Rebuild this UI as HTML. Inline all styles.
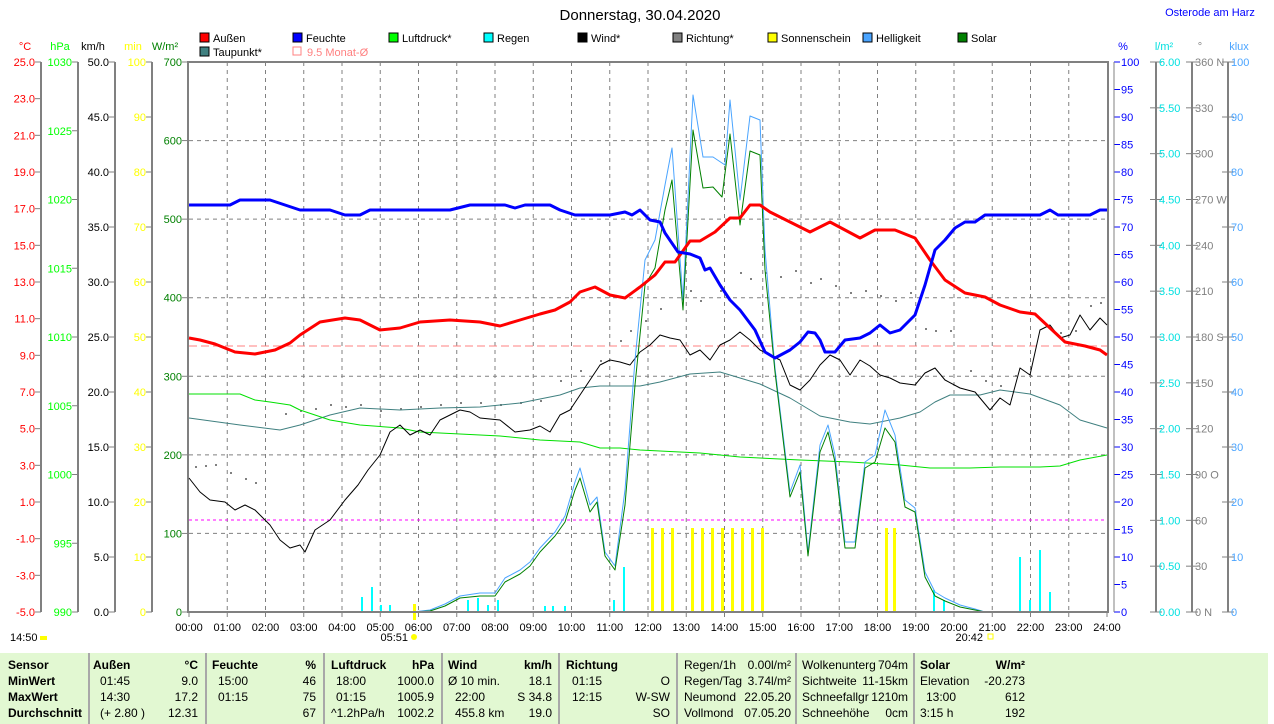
<!DOCTYPE html>
<html><head><meta charset="utf-8"><style>
body{margin:0;background:#fff;width:1274px;height:724px;overflow:hidden;font-family:"Liberation Sans",sans-serif}
svg text{font-family:"Liberation Sans",sans-serif;font-size:11px}
#tb{position:absolute;left:0;top:653px;width:1268px;height:71px;background:#e2f8d2;font-size:12px}
#tb div{position:absolute;white-space:nowrap}
.b{font-weight:bold}
.v{position:absolute;top:0;width:2px;height:71px;background:#a8a8a8}
</style></head><body>
<svg id="s" width="1274" height="653" style="position:absolute;left:0;top:0"></svg>
<div id="tb"></div>
<script>
const S=document.getElementById('s');let h='';
const X0=189,X1=1107,Y0=62,Y1=612;
const xh=t=>X0+(X1-X0)*t/24;
function T(x,y,s,c,a,extra){h+=`<text x="${x}" y="${y}" fill="${c}" text-anchor="${a||'start'}" ${extra||''}>${s}</text>`}
function L(x1,y1,x2,y2,c,w,d){h+=`<line x1="${x1}" y1="${y1}" x2="${x2}" y2="${y2}" stroke="${c}" stroke-width="${w||1}" ${d?`stroke-dasharray="${d}"`:''}/>`}
function P(pts,c,w,o){h+=`<polyline fill="none" stroke="${c}" stroke-width="${w}" stroke-linejoin="round" points="${pts}" ${o||''}/>`}
// title
h+=`<text x="640" y="20" text-anchor="middle" fill="#000" style="font-size:15px">Donnerstag, 30.04.2020</text>`;
T(1210,16,'Osterode am Harz','#0000ff','middle');
// grid
for(let i=1;i<7;i++){let y=Y0+i*550/7;L(X0,y,X1,y,'#808080',1,'4,4')}
for(let i=1;i<24;i++){let x=xh(i);L(x,Y0,x,Y1,'#808080',1,'4,4')}
// left axes
function axis(xl,xt,n,vals,c,tc){L(xl,Y0,xl,Y1,'#808080',2);for(let i=0;i<=n;i++){if(vals[i]===null)continue;let y=Y0+i*550/n;L(xl-6,y,xl,y,'#808080',1);T(xt,y+4,vals[i],c,'end')}}
let v=[];for(let i=0;i<=15;i++)v.push((25-2*i).toFixed(1));axis(41,35,15,v,'#ff0000');
v=[];for(let i=0;i<=8;i++)v.push(1030-5*i);axis(78,72,8,v,'#00ff00');
v=[];for(let i=0;i<=10;i++)v.push((50-5*i).toFixed(1));axis(115,109,10,v,'#000');
v=[];for(let i=0;i<=10;i++)v.push(100-10*i);axis(152,146,10,v,'#ffff00');
for(let i=0;i<=7;i++){let y=Y0+i*550/7;L(182,y,188,y,'#808080',1);T(182,y+4,700-100*i,'#008000','end')}
T(25,50,'°C','#ff0000','middle');T(60,50,'hPa','#00ff00','middle');T(93,50,'km/h','#000','middle');T(133,50,'min','#ffff00','middle');T(165,50,'W/m²','#008000','middle');
// right axes
for(let i=0;i<=20;i++){let y=Y0+i*27.5;L(1114,y,1120,y,'#0000ff',1);T(1121,y+4,100-5*i,'#0000ff')}
L(1114,Y0,1114,Y1,'#808080',1);
function raxis(xl,n,vals,c){L(xl,Y0,xl,Y1,'#808080',2);for(let i=0;i<=n;i++){let y=Y0+i*550/n;L(xl-6,y,xl+6,y,'#808080',1);T(xl+3,y+4,vals[i],c)}}
v=[];for(let i=0;i<=12;i++)v.push((6-0.5*i).toFixed(2));raxis(1156,12,v,'#00e0e0');
v=['360 N',330,300,'270 W',240,210,'180 S',150,120,'90 O',60,30,'0 N'];raxis(1192,12,v,'#808080');
v=[];for(let i=0;i<=10;i++)v.push(100-10*i);raxis(1228,10,v,'#4aa4ff');
T(1123,50,'%','#0000ff','middle');T(1164,50,'l/m²','#00e0e0','middle');T(1200,50,'°','#808080','middle');T(1239,50,'klux','#4aa4ff','middle');
// frame
h+=`<rect x="${X0-1}" y="${Y0}" width="${X1-X0+2}" height="${Y1-Y0}" fill="none" stroke="#808080" stroke-width="2"/>`;
// hours
for(let i=0;i<=24;i++){let x=xh(i);L(x,Y1,x,Y1+5,'#808080',1);T(x,631,(i<10?'0':'')+i+':00','#000','middle')}
T(408,641,'05:51','#000','end');h+=`<circle cx="414" cy="637" r="3" fill="#ffff00"/>`;
T(983,641,'20:42','#000','end');h+=`<rect x="988" y="634" width="5" height="5" fill="none" stroke="#ffff00"/>`;
T(10,641,'14:50','#000');h+=`<rect x="40" y="636" width="7" height="4" fill="#ffff00"/>`;
// legend
const lg=[[200,'Außen','#ff0000'],[293,'Feuchte','#0000ff'],[389,'Luftdruck*','#00ff00'],[484,'Regen','#00ffff'],[578,'Wind*','#000'],[673,'Richtung*','#808080'],[768,'Sonnenschein','#ffff00'],[863,'Helligkeit','#4aa4ff'],[958,'Solar','#008000']];
for(const [x,t,c] of lg){h+=`<rect x="${x}" y="33" width="9" height="9" fill="${c}" stroke="#000"/>`;T(x+13,42,t,'#000')}
h+=`<rect x="200" y="47" width="9" height="9" fill="#408080" stroke="#000"/>`;T(213,56,'Taupunkt*','#000');
h+=`<rect x="293" y="47" width="8" height="8" fill="none" stroke="#ff8080"/>`;T(307,56,'9.5 Monat-Ø','#ff8080');
// ref lines
L(X0,346,X1,346,'#ff8080',1,'8,4');L(X0,520,X1,520,'#ff00ff',1,'3,3');
// sunshine bars
for(const x of [652,662,672,692,702,712,722,732,742,752,762,886,894]){h+=`<rect x="${x-1}" y="528" width="3" height="84" fill="#ffff00"/>`}
h+=`<rect x="413" y="604" width="3" height="16" fill="#ffff00"/>`;
// rain bars
for(const [x,y] of [[362,597],[372,587],[381,605],[390,605],[468,600],[478,598],[488,605],[498,600],[545,606],[553,606],[565,606],[614,600],[624,567],[934,590],[944,600],[1020,557],[1030,600],[1040,550],[1050,592]]){h+=`<rect x="${x-1}" y="${y}" width="2" height="${612-y}" fill="#00ffff"/>`}
// direction dots
const dd=[[195,466],[205,465],[215,464],[230,472],[245,478],[255,482],[285,413],[300,410],[315,408],[330,404],[345,406],[360,404],[380,410],[400,408],[420,406],[440,404],[460,402],[480,402],[500,404],[520,402],[540,400],[560,380],[580,370],[600,360],[620,340],[630,330],[645,320],[660,308],[690,290],[700,300],[720,290],[740,272],[750,278],[765,272],[780,276],[795,270],[810,282],[820,278],[835,285],[850,292],[865,290],[880,295],[895,300],[910,292],[925,328],[935,330],[950,330],[970,370],[985,380],[1000,385],[1015,375],[1030,375],[1060,332],[1075,330],[1090,305],[1100,302]];
for(const [x,y] of dd)h+=`<rect x="${x}" y="${y}" width="2" height="2" fill="#808080"/>`;
// series
P('189,418 240,425 280,430 300,425 330,415 360,408 400,410 440,408 480,407 520,403 560,395 580,388 600,386 640,386 660,382 690,374 720,372 740,378 760,384 790,398 820,416 850,422 870,424 900,418 920,412 935,402 950,395 980,395 1000,390 1030,394 1060,405 1080,420 1107,428','#408080',1);
P('189,394 240,394 255,400 270,402 290,405 300,410 330,420 360,425 400,428 420,432 460,434 500,436 540,440 580,442 600,448 620,448 640,450 680,452 700,453 740,457 760,458 800,460 850,462 900,465 930,468 970,468 1000,467 1040,467 1060,466 1080,460 1107,455','#00e000',1);
P('189,478 200,492 210,500 225,502 235,510 245,505 255,510 260,515 270,525 280,540 290,548 300,545 305,552 315,530 330,520 345,500 358,485 368,470 380,455 390,432 400,425 410,435 420,430 430,435 440,420 450,415 460,410 470,412 480,418 500,420 515,432 530,430 540,426 550,432 560,415 570,410 580,395 590,380 600,365 610,360 620,362 630,365 640,352 650,345 660,335 670,338 680,340 690,355 700,350 710,360 720,345 730,340 740,332 750,340 760,350 770,355 780,360 790,385 800,390 810,380 820,365 830,355 840,360 850,375 860,360 870,366 880,375 890,378 900,383 915,385 925,373 935,368 945,380 960,388 975,392 990,410 1000,398 1010,405 1020,368 1030,375 1040,330 1050,325 1060,338 1070,335 1080,315 1090,330 1100,318 1107,325','#000',1);
P('413,612 430,610 445,604 460,596 480,593 495,593 505,578 520,570 530,562 540,548 555,532 565,516 575,482 580,468 590,505 597,497 605,552 615,566 625,490 635,360 645,260 655,240 665,185 672,148 683,300 693,95 703,157 713,157 725,165 730,100 740,200 750,116 760,120 765,250 775,368 790,492 800,465 808,552 820,445 828,425 835,455 845,542 855,542 865,462 875,455 885,410 895,435 905,500 915,508 925,572 935,592 945,598 960,605 975,609 985,612','#4aa4ff',1);
P('413,612 430,611 445,606 460,598 480,596 495,596 505,582 520,574 530,566 540,552 555,536 565,522 575,490 580,478 590,512 597,502 605,556 615,570 625,505 635,385 645,285 655,268 665,210 672,180 683,310 693,130 703,188 713,187 722,197 730,134 740,225 750,151 760,155 765,270 775,372 790,497 800,472 808,556 820,452 828,432 835,462 845,548 855,548 865,468 875,462 885,428 895,442 905,507 915,512 925,577 935,596 945,601 960,607 975,610 985,612','#008000',1);
P('189,338 200,340 215,344 235,352 255,354 275,350 290,343 300,335 320,322 345,318 360,320 380,330 400,328 420,322 450,320 480,322 500,326 520,320 540,314 555,310 570,302 580,292 595,287 610,295 625,298 640,287 655,275 665,262 675,262 680,255 690,241 700,241 715,232 730,218 740,218 750,205 760,205 770,212 790,222 810,232 830,222 845,230 860,238 875,230 895,230 915,238 930,260 945,280 965,293 985,297 1000,305 1020,312 1035,314 1050,328 1065,342 1085,346 1100,350 1107,355','#ff0000',3);
P('189,205 230,205 240,200 270,200 285,205 300,210 330,210 345,215 360,215 370,210 450,210 470,205 505,205 515,208 525,205 550,205 560,210 575,215 610,215 625,212 632,215 640,210 650,220 660,222 665,233 678,252 690,254 700,258 705,270 710,268 720,285 730,300 740,310 755,330 765,352 775,358 790,350 800,342 808,332 815,333 820,340 825,352 835,352 845,340 860,338 870,333 880,325 890,333 900,330 915,315 925,285 935,250 945,240 955,228 965,222 975,222 985,215 1040,215 1050,210 1058,215 1090,215 1100,210 1107,210','#0000ff',3);
L(X0,Y1,X1,Y1,'#808080',2);
S.innerHTML=h;
// table
const tb=document.getElementById('tb');let t='';
function c(x,y,s,b,a){t+=`<div class="${b?'b':''}" style="${a?'right':'left'}:${a?1268-x:x}px;top:${y}px">${s}</div>`}
const R=[5,21,37,53];
c(8,R[0],'Sensor',1);c(8,R[1],'MinWert',1);c(8,R[2],'MaxWert',1);c(8,R[3],'Durchschnitt',1);
c(93,R[0],'Außen',1);c(198,R[0],'°C',1,1);c(100,R[1],'01:45');c(198,R[1],'9.0',0,1);c(100,R[2],'14:30');c(198,R[2],'17.2',0,1);c(100,R[3],'(+ 2.80 )');c(198,R[3],'12.31',0,1);
c(212,R[0],'Feuchte',1);c(316,R[0],'%',1,1);c(218,R[1],'15:00');c(316,R[1],'46',0,1);c(218,R[2],'01:15');c(316,R[2],'75',0,1);c(316,R[3],'67',0,1);
c(331,R[0],'Luftdruck',1);c(434,R[0],'hPa',1,1);c(336,R[1],'18:00');c(434,R[1],'1000.0',0,1);c(336,R[2],'01:15');c(434,R[2],'1005.9',0,1);c(331,R[3],'^1.2hPa/h');c(434,R[3],'1002.2',0,1);
c(448,R[0],'Wind',1);c(552,R[0],'km/h',1,1);c(448,R[1],'Ø 10 min.');c(552,R[1],'18.1',0,1);c(455,R[2],'22:00');c(552,R[2],'S 34.8',0,1);c(455,R[3],'455.8 km');c(552,R[3],'19.0',0,1);
c(566,R[0],'Richtung',1);c(572,R[1],'01:15');c(670,R[1],'O',0,1);c(572,R[2],'12:15');c(670,R[2],'W-SW',0,1);c(670,R[3],'SO',0,1);
c(684,R[0],'Regen/1h');c(791,R[0],'0.00l/m²',0,1);c(684,R[1],'Regen/Tag');c(791,R[1],'3.74l/m²',0,1);c(684,R[2],'Neumond');c(791,R[2],'22.05.20',0,1);c(684,R[3],'Vollmond');c(791,R[3],'07.05.20',0,1);
c(802,R[0],'Wolkenunterg');c(908,R[0],'704m',0,1);c(802,R[1],'Sichtweite');c(908,R[1],'11-15km',0,1);c(802,R[2],'Schneefallgr');c(908,R[2],'1210m',0,1);c(802,R[3],'Schneehöhe');c(908,R[3],'0cm',0,1);
c(920,R[0],'Solar',1);c(1025,R[0],'W/m²',1,1);c(920,R[1],'Elevation');c(1025,R[1],'-20.273',0,1);c(926,R[2],'13:00');c(1025,R[2],'612',0,1);c(920,R[3],'3:15 h');c(1025,R[3],'192',0,1);
for(const x of [88,205,323,441,558,676,795,913])t+=`<span class="v" style="left:${x}px"></span>`;
tb.innerHTML=t;
</script>
</body></html>
